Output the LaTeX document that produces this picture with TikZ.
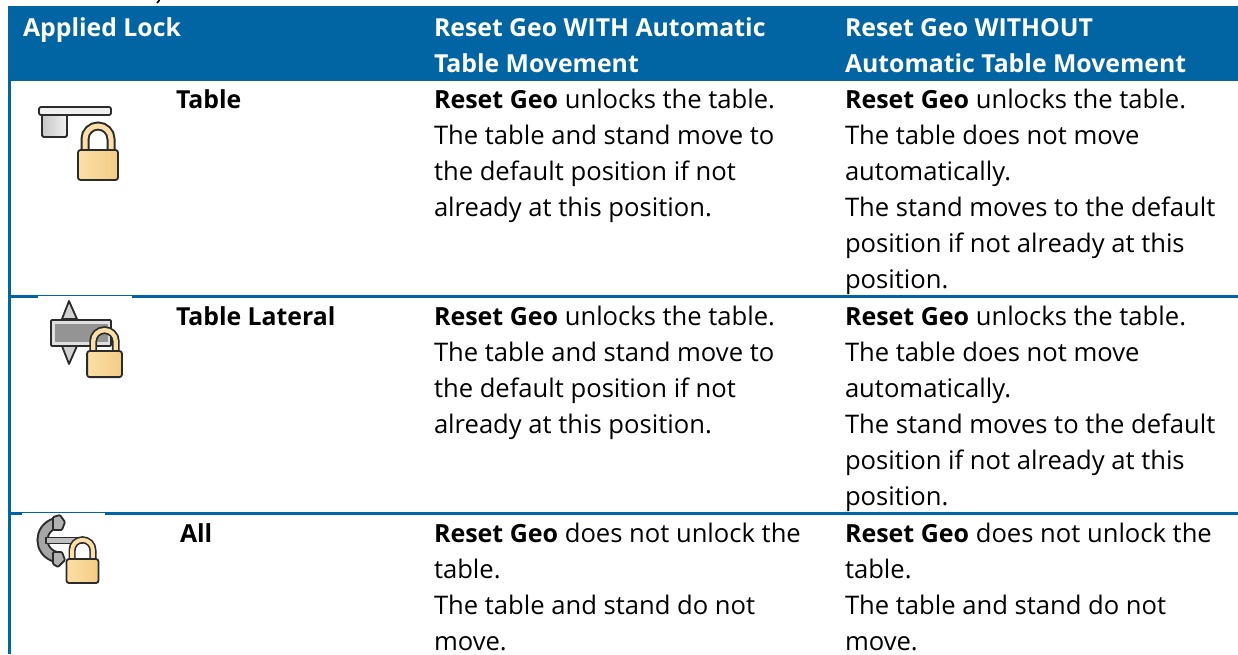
\documentclass[tikz,border=0pt]{standalone}
\usepackage{fontspec}
\setmainfont{Open Sans}
\definecolor{hdr}{HTML}{0065A2}
\definecolor{lockA}{HTML}{FBDFA6}
\definecolor{lockB}{HTML}{F3CC85}
\definecolor{ink}{HTML}{2B2B2B}
\newcommand{\bodyfont}{\fontsize{25.6}{36}\selectfont}
\newcommand{\strongfont}{\fontsize{24.8}{36}\selectfont\bfseries}
\newcommand{\rg}{{\fontsize{25}{36}\selectfont\bfseries Reset Geo}}
\tikzset{
  tcell/.style={anchor=base west,inner sep=0pt,outer sep=0pt,font=\bodyfont,text=black},
  hcell/.style={tcell,text=white,font=\strongfont},
  bcell/.style={tcell,font=\strongfont},
  rule/.style={draw=hdr,line width=3pt},
  thinrule/.style={draw=hdr,line width=1.3pt},
  iconline/.style={draw=ink,line width=1.8pt,line join=round},
}
\newcommand{\padlock}[3]{% x, y of top of body, scale
  \begin{scope}[shift={(#1,#2)},scale=#3]
    \draw[draw=ink,line width=#3*9pt] (-13,1) -- (-13,-11) arc (180:360:13) -- (13,1);
    \draw[draw=lockA,line width=#3*5pt] (-13,1) -- (-13,-11) arc (180:360:13) -- (13,1);
    \shade[left color=lockA,right color=lockB,draw=ink,line width=1.8pt,rounded corners=2.5pt] (-20,0) rectangle (20,30);
  \end{scope}}
\begin{document}
\begin{tikzpicture}[x=1pt,y=-1pt]
\useasboundingbox (0,0) rectangle (1238,654);
\fill[white] (0,0) rectangle (1238,654);
% fragment of text cut off at the top
\draw[black,line width=1.6pt] (157,3) -- (159.5,0);
% header and rules
\fill[hdr] (8,6) rectangle (1238,81);
\draw[rule] (9,81) -- (9,654);
\draw[rule] (10,296) -- (38,296);
\draw[thinrule] (38,295.2) -- (132,295.2);
\draw[rule] (132,296) -- (1238,296);
\draw[rule] (10,513) -- (22,513);
\draw[thinrule] (22,512.2) -- (105,512.2);
\draw[rule] (105,513) -- (1238,513);
% header text
\node[hcell] (h1) at (23,36) {Applied Lock};
\node[hcell] (h2a) at (434,36) {Reset Geo WITH Automatic};
\node[hcell] (h2b) at (434,72) {Table Movement};
\node[hcell] (h3a) at (845,36) {Reset Geo WITHOUT};
\node[hcell] (h3b) at (845,72) {Automatic Table Movement};
% row 1
\node[bcell] (r1) at (176,108) {Table};
\node[tcell] (a1) at (434,108) {\rg{} unlocks the table.};
\node[tcell] (a2) at (434,144) {The table and stand move to};
\node[tcell] (a3) at (434,180) {the default position if not};
\node[tcell] (a4) at (434,216) {already at this position.};
\node[tcell] (b1) at (845,108) {\rg{} unlocks the table.};
\node[tcell] (b2) at (845,144) {The table does not move};
\node[tcell] (b3) at (845,180) {automatically.};
\node[tcell] (b4) at (845,216) {The stand moves to the default};
\node[tcell] (b5) at (845,252) {position if not already at this};
\node[tcell] (b6) at (845,288) {position.};
% row 2
\node[bcell] (r2) at (176,325) {Table Lateral};
\node[tcell] (c1) at (434,325) {\rg{} unlocks the table.};
\node[tcell] (c2) at (434,361) {The table and stand move to};
\node[tcell] (c3) at (434,397) {the default position if not};
\node[tcell] (c4) at (434,433) {already at this position.};
\node[tcell] (d1) at (845,325) {\rg{} unlocks the table.};
\node[tcell] (d2) at (845,361) {The table does not move};
\node[tcell] (d3) at (845,397) {automatically.};
\node[tcell] (d4) at (845,433) {The stand moves to the default};
\node[tcell] (d5) at (845,469) {position if not already at this};
\node[tcell] (d6) at (845,505) {position.};
% row 3
\node[bcell] (r3) at (180,542) {All};
\node[tcell] (e1) at (434,542) {\rg{} does not unlock the};
\node[tcell] (e2) at (434,578) {table.};
\node[tcell] (e3) at (434,614) {The table and stand do not};
\node[tcell] (e4) at (434,650) {move.};
\node[tcell] (f1) at (845,542) {\rg{} does not unlock the};
\node[tcell] (f2) at (845,578) {table.};
\node[tcell] (f3) at (845,614) {The table and stand do not};
\node[tcell] (f4) at (845,650) {move.};
% icon 1: table
\shade[left color=black!22,right color=black!6,draw=ink,line width=1.8pt,line join=round,rounded corners=1.5pt] (42,115) -- (42,137) -- (67,137) -- (67,115);
\draw[iconline,fill=black!6,rounded corners=2pt] (39,107) rectangle (111,115);
\padlock{98}{150}{1}
% icon 2: table lateral
\draw[iconline,fill=black!18] (62,319) -- (69,301) -- (77,319) -- cycle;
\draw[iconline,fill=black!18] (62,346) -- (69,364) -- (77,346) -- cycle;
\draw[iconline,fill=black!12,rounded corners=1pt] (51,320) rectangle (111,346);
\fill[black!42] (55,324) rectangle (108,342);
\padlock{104.5}{351}{.87}
% icon 3: all
\draw[draw=ink,line width=12pt,line cap=round] (56,523) .. controls (38,528) and (38,552) .. (56,557);
\draw[draw=black!35,line width=8pt,line cap=round] (56,523) .. controls (38,528) and (38,552) .. (56,557);
\draw[iconline,fill=black!30,rounded corners=1pt] (53,517) -- (60,515) -- (65,522) -- (62,530) -- (53,530) -- cycle;
\draw[iconline,fill=black!30,rounded corners=1pt] (53,552) -- (62,552) -- (65,560) -- (58,567) -- (53,564) -- cycle;
\draw[iconline,fill=black!25] (46,537.5) rectangle (82,543.5);
\padlock{82.5}{559}{.8}
\end{tikzpicture}
\end{document}
